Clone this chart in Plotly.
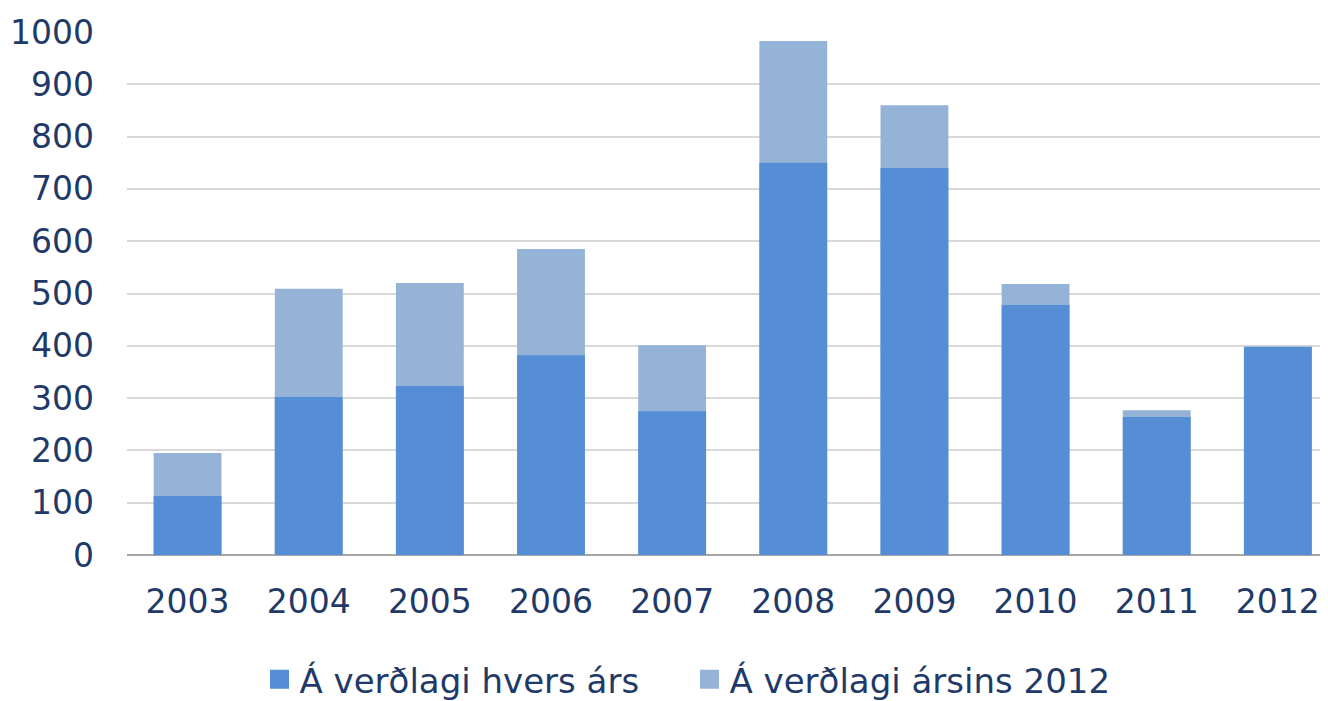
import plotly.graph_objects as go

years = ['2003', '2004', '2005', '2006', '2007', '2008', '2009', '2010', '2011', '2012']
# nominal values (price level of each year)
hvers_ars = [113, 302, 323, 382, 275, 750, 740, 478, 264, 398]
# values at 2012 price level
arsins_2012 = [195, 509, 520, 585, 401, 983, 860, 518, 277, 398]

dark = '#558ED5'
light = '#95B3D7'
text_color = '#1F3A68'

fig = go.Figure()
fig.add_trace(go.Bar(x=years, y=arsins_2012, name='Á verðlagi ársins 2012',
                     marker_color=light, marker_line_width=0, showlegend=False))
fig.add_trace(go.Bar(x=years, y=hvers_ars, name='Á verðlagi hvers árs',
                     marker_color=dark, marker_line_width=0, showlegend=False))

# legend entries with bigger square symbols
for name, col in [('Á verðlagi hvers árs', dark), ('Á verðlagi ársins 2012', light)]:
    fig.add_trace(go.Scatter(x=[None], y=[None], mode='markers', name=name,
                             marker=dict(symbol='square', size=16, color=col,
                                         line=dict(color=col, width=3))))

fig.update_layout(
    barmode='overlay',
    bargap=0.44,
    width=1328, height=701,
    margin=dict(l=119, r=0, t=24, b=154),
    plot_bgcolor='white',
    paper_bgcolor='white',
    font=dict(family='DejaVu Sans', size=33, color=text_color),
    legend=dict(orientation='h', x=0.1096, xanchor='left', y=-0.183, yanchor='top',
                font=dict(size=34), itemwidth=30, itemsizing='trace',
                entrywidth=385, entrywidthmode='pixels'),
    showlegend=True,
)
fig.update_xaxes(type='category', range=[-0.5, 9.48], showgrid=False,
                 showline=False, ticks='', ticklabelstandoff=24, automargin=False)
fig.update_yaxes(range=[0, 1000], dtick=100, gridcolor='#D9D9D9', gridwidth=2,
                 zeroline=True, zerolinecolor='#A6A6A6', zerolinewidth=2,
                 showline=False, ticks='', ticklabelstandoff=32, automargin=False)

fig.write_html('out.html')
